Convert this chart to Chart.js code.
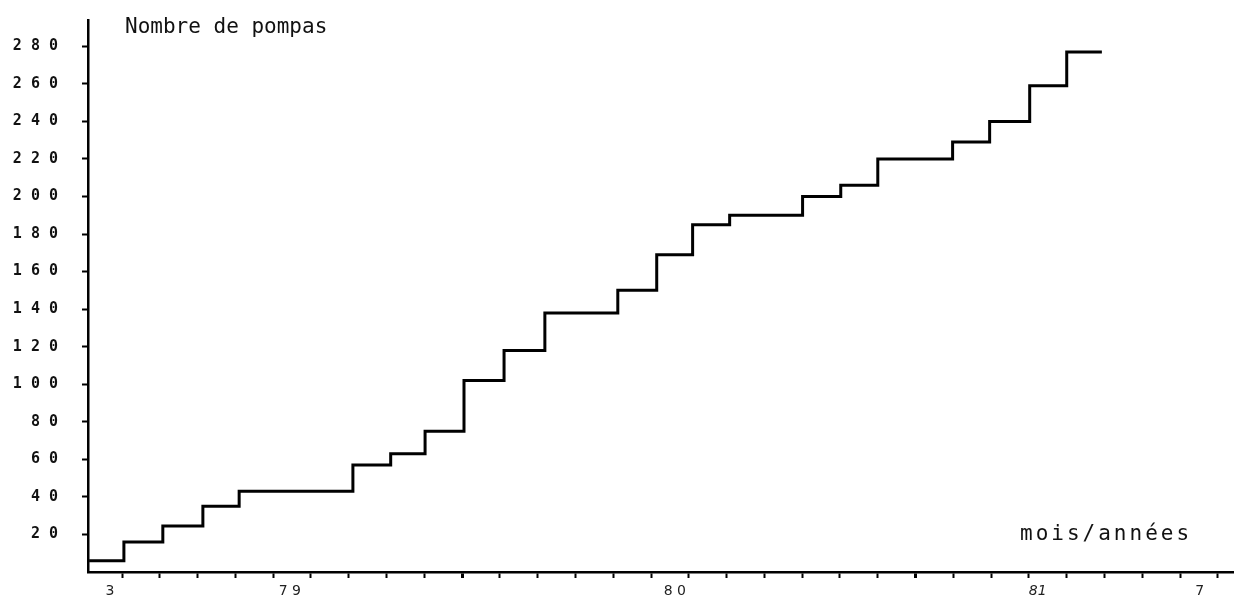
<!DOCTYPE html>
<html lang="fr">
<head>
<meta charset="utf-8">
<title>Nombre de pompas</title>
<script src="https://cdn.jsdelivr.net/npm/chart.js@4.4.1/dist/chart.umd.min.js"></script>
<style>
    html, body { margin: 0; padding: 0; background: #fff; }
    #wrap { width: 1246px; height: 595px; position: relative; }
</style>
</head>
<body>
<div id="wrap"><canvas id="pumpChart"></canvas></div>
<script>
// ===== Data =====
// x = months counted from the start of March 1979 (tick 1 = start of April 79)
const stepMonths = [0.13, 1.05, 2.08, 3.14, 4.10, 7.11, 8.11, 9.02, 10.05, 11.11, 12.19, 14.12,
                    15.15, 16.10, 17.08, 19.01, 20.02, 21.00, 22.98, 23.96, 25.02, 26.00, 26.93];
const pumpCounts = [6, 16, 24.5, 35, 43, 57, 63, 75, 102, 118, 138, 150,
                    169, 185, 190, 200, 206, 220, 229, 240, 259, 277, 277];

const monthTicks = [1, 2, 3, 4, 5, 6, 7, 8, 9, 10, 11, 12, 13, 14, 15,
                    16, 17, 18, 19, 20, 21, 22, 23, 24, 25, 26, 27, 28, 29, 30];
const longTicks = [10, 22]; // January 80, January 81
const xLabelValues = [0.68, 5.44, 15.63, 25.23, 29.52];
const xLabelTexts = ['3', '7 9', '8 0', '81', '7'];

const yTicks = [20, 40, 60, 80, 100, 120, 140, 160, 180, 200, 220, 240, 260, 280];
const yTickLabels = ['2 0', '4 0', '6 0', '8 0', '1 0 0', '1 2 0', '1 4 0', '1 6 0',
                     '1 8 0', '2 0 0', '2 2 0', '2 4 0', '2 6 0', '2 8 0'];

const yTitle = 'Nombre de pompas';
const xTitle = 'mois/années';

// ===== Axis titles drawn inside the plot, as on the original =====
const axisTexts = {
    id: 'axisTexts',
    afterDraw(chart) {
        const { ctx, chartArea } = chart;
        ctx.save();
        ctx.fillStyle = '#111';
        ctx.textBaseline = 'alphabetic';
        ctx.font = '21px "DejaVu Sans Mono"';
        ctx.fillText(yTitle, chartArea.left + 37, 33);
        ctx.letterSpacing = '3px';
        ctx.fillText(xTitle, chartArea.right - 213, chartArea.bottom - 32);
        ctx.restore();
    }
};

const isLabelTick = (v) => xLabelValues.includes(v);

// keep the label padding from pushing the plot area around
const noEdgePadding = (scale) => {
    scale.paddingTop = 0; scale.paddingBottom = 0;
    scale.paddingLeft = 0; scale.paddingRight = 0;
};

const ctx = document.getElementById('pumpChart').getContext('2d');
new Chart(ctx, {
    type: 'line',
    data: {
        datasets: [{
            data: stepMonths.map((m, i) => ({ x: m, y: pumpCounts[i] })),
            borderColor: '#000',
            borderWidth: 3,
            stepped: true,
            pointRadius: 0,
            fill: false
        }]
    },
    options: {
        responsive: true,
        maintainAspectRatio: false,
        animation: false,
        layout: { padding: { top: 20, right: 13, left: 0, bottom: 0 } },
        plugins: { legend: { display: false }, tooltip: { enabled: false } },
        scales: {
            x: {
                type: 'linear',
                min: 0.1,
                max: 30.4,
                afterBuildTicks: (scale) => {
                    scale.ticks = monthTicks.concat(xLabelValues)
                        .sort((a, b) => a - b)
                        .map(v => ({ value: v }));
                },
                afterFit: (scale) => { scale.height = 23; noEdgePadding(scale); },
                border: { color: '#000', width: 2.5 },
                grid: {
                    drawOnChartArea: false,
                    tickLength: 6,
                    tickColor: (c) => (c.tick && isLabelTick(c.tick.value)) ? 'rgba(0,0,0,0)' : '#000',
                    tickWidth: (c) => (c.tick && longTicks.includes(c.tick.value)) ? 3 : 2
                },
                ticks: {
                    autoSkip: false,
                    maxRotation: 0,
                    padding: 5,
                    color: '#222',
                    font: (c) => ({
                        family: '"DejaVu Sans"',
                        size: 14,
                        style: (c.tick && c.tick.label === '81') ? 'italic' : 'normal'
                    }),
                    callback: (value) => {
                        const i = xLabelValues.indexOf(value);
                        return i >= 0 ? xLabelTexts[i] : '';
                    }
                }
            },
            y: {
                min: 0,
                max: 294,
                afterBuildTicks: (scale) => {
                    scale.ticks = yTicks.map(v => ({ value: v }));
                },
                afterFit: (scale) => { scale.width = 88; noEdgePadding(scale); },
                border: { color: '#000', width: 2.5 },
                grid: {
                    drawOnChartArea: false,
                    tickLength: 6,
                    tickColor: '#000',
                    tickWidth: 2
                },
                ticks: {
                    padding: 24,
                    color: '#111',
                    font: { family: '"DejaVu Sans Mono"', size: 15, weight: 'bold' },
                    callback: (value) => {
                        const i = yTicks.indexOf(value);
                        return i >= 0 ? yTickLabels[i] : '';
                    }
                }
            }
        }
    },
    plugins: [axisTexts]
});
</script>
</body>
</html>
